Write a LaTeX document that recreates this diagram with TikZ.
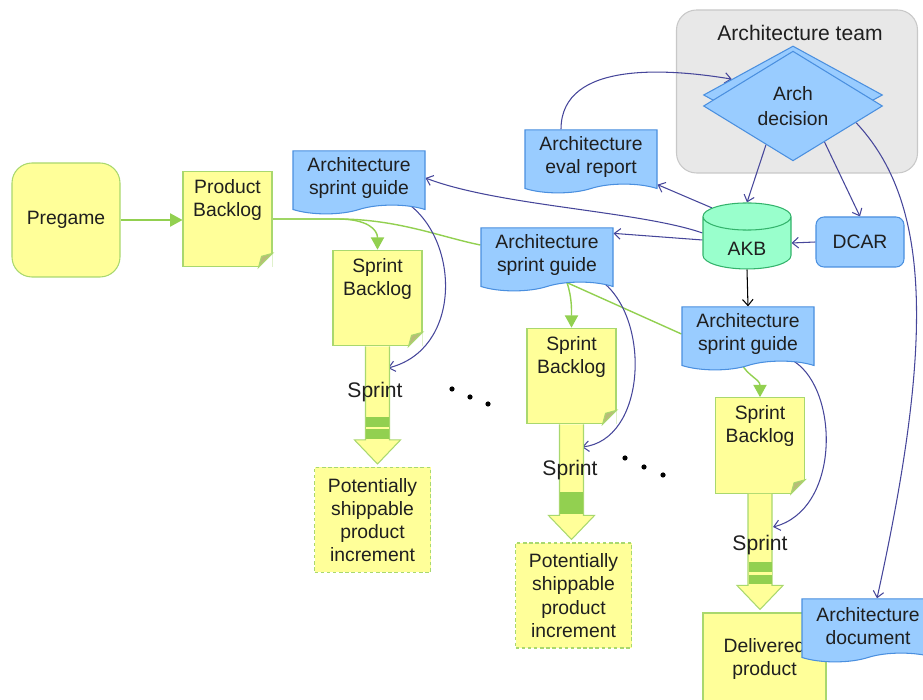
\documentclass[tikz,border=0pt]{standalone}
\usepackage{fontspec}
\setmainfont{Liberation Sans}
\usetikzlibrary{calc,arrows.meta,shapes.geometric,shapes.symbols,backgrounds}
\definecolor{ink}{HTML}{1F1F1F}
\definecolor{ylwfill}{HTML}{FFFF99}
\definecolor{ylwline}{HTML}{A9D86E}
\definecolor{foldcol}{HTML}{B8BC78}
\definecolor{docfill}{HTML}{99CCFF}
\definecolor{docline}{HTML}{4A8FDF}
\definecolor{akbfill}{HTML}{99FFCC}
\definecolor{akbline}{HTML}{33B36B}
\definecolor{teamfill}{HTML}{E8E8E8}
\definecolor{teamline}{HTML}{C8C8C8}
\definecolor{linkblue}{HTML}{46469A}
\definecolor{flowgreen}{HTML}{92D050}

\begin{document}
\begin{tikzpicture}[x=0.2mm,y=-0.2mm,
  txt/.style={text=ink,font=\fontsize{11}{13.2}\selectfont,align=center,inner sep=0pt},
  ylw/.style={draw=ylwline,fill=ylwfill,line width=0.6pt},
  note/.style={txt,ylw,minimum width=1.78cm,text height=25.7pt,text depth=28.7pt},
  doc/.style={txt,tape,tape bend top=none,tape bend bottom=in and out,tape bend height=5pt,
    draw=docline,fill=docfill,line width=0.6pt,minimum width=2.64cm,minimum height=1.26cm},
  dec/.style={diamond,draw=docline,fill=docfill,line width=0.6pt,minimum width=3.58cm,
    minimum height=1.96cm,inner sep=0pt},
  result/.style={txt,ylw,dash pattern=on 2pt off 1.5pt,minimum width=2.32cm,minimum height=2.1cm},
  flow/.style={draw=flowgreen,line width=0.8pt},
  flowarr/.style={flow,-{Triangle[length=7pt,width=7.5pt]}},
  link/.style={draw=linkblue,line width=0.6pt,-{Straight Barb[length=3.5pt,width=6pt]}},
  sprintlbl/.style={text=ink,font=\fontsize{12}{14}\selectfont,inner sep=0pt}]
  \useasboundingbox (0,0) rectangle (923,700);

  % backlogs and results
  \node[txt,ylw,rounded corners=0.4cm,minimum width=2.16cm,minimum height=2.28cm] (pregame) at (66,220) {Pregame};
  \node[note] (pb) at (227.5,219) {Product\\Backlog};
  \node[note] (sb1) at (377.5,298) {Sprint\\Backlog};
  \node[note] (sb2) at (571.5,376) {Sprint\\Backlog};
  \node[note] (sb3) at (760,445.5) {Sprint\\Backlog};
  \foreach \n in {pb,sb1,sb2,sb3} {
    \fill[white] ($(\n.south east)+(-14,0)$) -- (\n.south east) -- ($(\n.south east)+(0,-14)$) -- cycle;
    \filldraw[draw=ylwline,fill=foldcol,line width=0.6pt] ($(\n.south east)+(-14,0)$) -- ($(\n.south east)+(0,-14)$) -- ($(\n.south east)+(-11,-11)$) -- cycle;
  }
  \node[result] (spi1) at (372.5,520) {Potentially\\shippable\\product\\increment};
  \node[result] (spi2) at (573.5,595.5) {Potentially\\shippable\\product\\increment};
  \node[txt,ylw,minimum width=2.46cm,minimum height=1.84cm] (dp) at (764.5,659) {Delivered\\product};

  % sprint arrows
  \foreach \s/\t/\k in {sb1/spi1/1,sb2/spi2/0,sb3/dp/1} {
    \coordinate (tip) at ($(\s.south |- \t.north)+(0,-3)$);
    \filldraw[ylw] ($(\s.south)+(-12,0)$) -- ($(tip)+(-12,-24)$) -- ($(tip)+(-23,-24)$) -- (tip)
      -- ($(tip)+(23,-24)$) -- ($(tip)+(12,-24)$) -- ($(\s.south)+(12,0)$);
    \fill[flowgreen] ($(tip)+(-11.5,-47)$) rectangle ($(tip)+(11.5,-25)$);
    \ifnum\k=1 \draw[ylwfill,line width=1.2pt] ($(tip)+(-11.5,-36)$) -- ($(tip)+(11.5,-36)$); \fi
  }
  \node[sprintlbl] (spr1) at (375,392) {Sprint};
  \node[sprintlbl] (spr2) at (570,470) {Sprint};
  \node[sprintlbl] (spr3) at (760,545) {Sprint};
  \coordinate (sh1) at (388,368);
  \coordinate (sh2) at (582,447);
  \coordinate (sh3) at (773,527);
  \foreach \p in {(452,389),(470,397),(488,404),(625,458),(644,467),(663,475)}
    \fill \p circle (2.6);

  % architecture side
  \node[doc] (asg1) at (359,178) {Architecture\\sprint guide};
  \node[doc] (aer) at (591,157) {Architecture\\eval report};
  \node[doc] (asg2) at (547,255) {Architecture\\sprint guide};
  \node[doc] (asg3) at (748,334) {Architecture\\sprint guide};
  \node[doc] (adoc) at (868,626) {Architecture\\document};
  \node[dec] (archb) at (793,95) {};
  \node[dec,txt,font=\fontsize{11}{14}\selectfont] (arch) at (793,106) {Arch\\decision};
  \node[txt,cylinder,shape border rotate=90,aspect=0.7,draw=akbline,fill=akbfill,line width=0.6pt,
    minimum width=1.76cm,minimum height=1.32cm,text height=14pt,text depth=0pt] (akb) at (747,243) {AKB};
  \node[txt,draw=docline,fill=docfill,line width=0.6pt,rounded corners=0.16cm,
    minimum width=1.76cm,minimum height=1.0cm] (dcar) at (860,242) {DCAR};

  \begin{scope}[on background layer]
    \node[draw=teamline,fill=teamfill,line width=0.6pt,rounded corners=0.4cm,
      minimum width=4.82cm,minimum height=3.26cm] (team) at (797,91.5) {};
    \node[txt,font=\fontsize{12}{14}\selectfont] (teamt) at (800,33) {Architecture team};
    % green flow
    \draw[flowarr] (pregame.east) -- (pb.west |- pregame.east);
    \draw[flowarr] (pb.east) -- ++(65,0) .. controls +(30,0) and +(0,-20) .. (sb1.north);
    \draw[flow] (pb.east) -- ++(65,0) .. controls +(60,0) and +(-40,-8) .. ([yshift=0.2cm]asg2.west);
    \draw[flowarr] ($(asg2.south)+(20,0)$) .. controls +(5,15) and +(0,-18) .. (sb2.north);
    \draw[flow] ($(asg2.south)+(20,0)$) -- (asg3.west);
    \draw[flowarr] ($(asg3.south)+(-8,0)$) .. controls +(8,15) and +(0,-18) .. (sb3.north);
    % architecture links
    \draw[link] ([xshift=-0.6cm]aer.north) .. controls +(0,-70) and +(-60,-10) .. ($(archb.north)!0.68!(archb.west)$);
    \draw[link] ($(arch.south)!0.3!(arch.west)$) -- (akb.north);
    \draw[link] ($(arch.south)!0.35!(arch.east)$) -- (dcar.north);
    \draw[link] ($(arch.south)!0.7!(arch.east)$) .. controls +(74,79) and +(58,-263) .. ([xshift=0.18cm]adoc.north);
    \draw[link] (dcar.west) -- (akb.east);
    \draw[link] (akb.north west) -- (aer.south east);
    \draw[link] ([yshift=0.2cm]akb.west) .. controls +(-63,-22) and +(73,28) .. (asg1.east);
    \draw[link] ([yshift=0.06cm]akb.west) -- ([yshift=-0.12cm]asg2.north east);
    \draw[link,draw=black] (akb.south) -- (asg3.north);
    \draw[link] ($(asg1.south east)+(-15,0)$) .. controls +(50,40) and +(72,-18) .. (sh1);
    \draw[link] ($(asg2.south east)+(-10,0)$) .. controls +(48,40) and +(63,-7) .. (sh2);
    \draw[link] ($(asg3.south east)+(-20,0)$) .. controls +(45,30) and +(67,-17) .. (sh3);
  \end{scope}
\end{tikzpicture}
\end{document}
